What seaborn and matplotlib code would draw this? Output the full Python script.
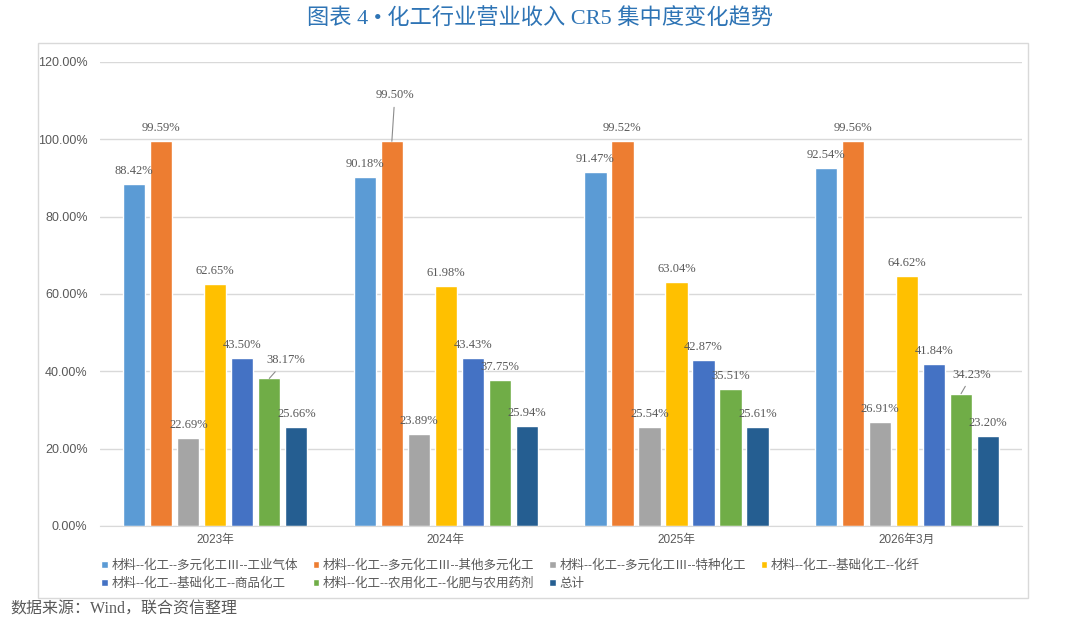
import pandas as pd
import matplotlib
matplotlib.use("Agg")
import matplotlib.pyplot as plt
import seaborn as sns
from matplotlib.patches import Rectangle

# data
periods = ["2023年", "2024年", "2025年", "2026年3月"]
series = [
    "材料--化工--多元化工Ⅲ--工业气体",
    "材料--化工--多元化工Ⅲ--其他多元化工",
    "材料--化工--多元化工Ⅲ--特种化工",
    "材料--化工--基础化工--化纤",
    "材料--化工--基础化工--商品化工",
    "材料--化工--农用化工--化肥与农用药剂",
    "总计",
]
industrial_gas = [88.42, 90.18, 91.47, 92.54]
other_multi = [99.59, 99.50, 99.52, 99.56]
specialty = [22.69, 23.89, 25.54, 26.91]
fiber = [62.65, 61.98, 63.04, 64.62]
commodity = [43.50, 43.43, 42.87, 41.84]
fertilizer = [38.17, 37.75, 35.51, 34.23]
total = [25.66, 25.94, 25.61, 23.20]
colors = ["#5B9BD5", "#ED7D31", "#A5A5A5", "#FFC000", "#4472C4", "#70AD47", "#255E91"]

values = [industrial_gas, other_multi, specialty, fiber, commodity, fertilizer, total]
rows = []
for name, vals in zip(series, values):
    for p, v in zip(periods, vals):
        rows.append({"period": p, "series": name, "value": v})
df = pd.DataFrame(rows)

sns.set_style("white")
plt.rcParams["font.family"] = ["Liberation Sans", "Noto Sans CJK SC", "DejaVu Sans"]
serif = ["Liberation Serif", "Noto Sans CJK SC", "DejaVu Sans"]
grey = "#595959"

fig = plt.figure(figsize=(10.8, 6.25), dpi=100)
ax = fig.add_axes([0.0926, 0.1584, 0.854, 0.7424])

sns.barplot(data=df, x="period", y="value", hue="series", order=periods, hue_order=series,
            palette=colors, width=0.82, gap=0.18, saturation=1, ax=ax, zorder=2)

ax.set_ylim(0, 120)
ax.set_xlim(-0.5, 3.5)
ax.set_yticks(range(0, 121, 20))
ax.set_yticklabels([f"{t:.2f}%" for t in range(0, 121, 20)])
ax.grid(axis="y", color="#D9D9D9", linewidth=1, zorder=0)
ax.set_axisbelow(True)
for s in ["top", "right", "left"]:
    ax.spines[s].set_visible(False)
ax.spines["bottom"].set_color("#D9D9D9")
ax.tick_params(axis="y", length=0, pad=9, labelsize=9, labelcolor=grey)
ax.tick_params(axis="x", length=0, pad=6, labelsize=8.5, labelcolor=grey)
ax.set_xlabel("")
ax.set_ylabel("")

# labels, some moved with leader lines (series index, period index) -> pixel offset
moved = {(1, 1): (3, 46), (5, 0): (16, 18), (5, 3): (11, 19)}
for i, cont in enumerate(ax.containers):
    for j, bar in enumerate(cont):
        x = bar.get_x() + bar.get_width() / 2
        h = bar.get_height()
        txt = f"{h:.2f}%"
        if (i, j) in moved:
            dx, dy = moved[(i, j)]
            ax.annotate(txt, (x, h), xytext=(dx, dy), textcoords="offset pixels",
                        ha="center", va="center", fontsize=9, color=grey, family=serif,
                        zorder=3,
                        arrowprops=dict(arrowstyle="-", color="#8C8C8C", lw=0.8,
                                        shrinkA=2, shrinkB=0))
        else:
            ax.annotate(txt, (x, h), xytext=(0, 7), textcoords="offset pixels",
                        ha="center", va="bottom", fontsize=9, color=grey, family=serif,
                        zorder=3)

# legend filled row by row like the original
handles, labels = ax.get_legend_handles_labels()
ax.legend_.remove()
order = [0, 4, 1, 5, 2, 6, 3]
fig.legend([handles[k] for k in order], [labels[k] for k in order], loc="upper left",
           bbox_to_anchor=(95 / 1080, 1 - 553 / 625),
           ncol=4, frameon=False, fontsize=9, labelcolor=grey, handlelength=0.5,
           handleheight=0.5, handletextpad=0.3, columnspacing=1.2, borderpad=0,
           labelspacing=0.5)

# chart frame
fig.patches.append(Rectangle((38 / 1080, 1 - 598 / 625), 990 / 1080, 555 / 625,
                             transform=fig.transFigure, fill=False,
                             edgecolor="#D9D9D9", linewidth=1))

fig.text(0.5, 1 - 19 / 625, "图表 4 • 化工行业营业收入 CR5 集中度变化趋势", ha="center",
         va="center", fontsize=16, color="#2E74B5", family=serif)
fig.text(10 / 1080, 1 - 610 / 625, "数据来源：Wind，联合资信整理", ha="left", va="center",
         fontsize=11.5, color=grey, family=serif)

fig.savefig("out.png", dpi=100)
